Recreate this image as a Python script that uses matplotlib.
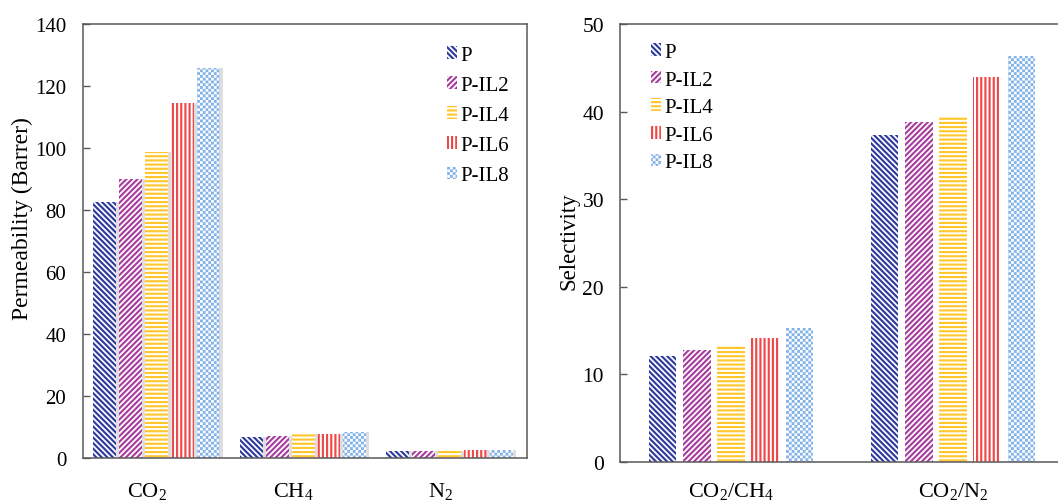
import numpy as np
import matplotlib
matplotlib.use("Agg")
import matplotlib.pyplot as plt
import matplotlib.hatch as mhatch
from matplotlib.path import Path

# ---------------- data ----------------
gases = ['CO$_2$', 'CH$_4$', 'N$_2$']
pairs = ['CO$_2$/CH$_4$', 'CO$_2$/N$_2$']
membranes = ['P', 'P-IL2', 'P-IL4', 'P-IL6', 'P-IL8']

perm_P = [82.7, 6.9, 2.3]
perm_IL2 = [89.9, 7.0, 2.3]
perm_IL4 = [98.7, 7.6, 2.1]
perm_IL6 = [114.5, 7.9, 2.6]
perm_IL8 = [125.7, 8.3, 2.7]

sel_P = [12.1, 37.3]
sel_IL2 = [12.8, 38.8]
sel_IL4 = [13.2, 39.5]
sel_IL6 = [14.2, 44.0]
sel_IL8 = [15.3, 46.3]

perm = [perm_P, perm_IL2, perm_IL4, perm_IL6, perm_IL8]
sel = [sel_P, sel_IL2, sel_IL4, sel_IL6, sel_IL8]

colors = ['#2F3C9E', '#A83E9E', '#FFC72C', '#F04848', '#7FB0E8']
hatches = ['\\' * 6, '/' * 6, '----', '||||', '......']

# ---------------- styling ----------------
plt.rcParams['font.family'] = ['Liberation Serif', 'DejaVu Serif']
plt.rcParams['mathtext.fontset'] = 'custom'
plt.rcParams['mathtext.rm'] = 'Liberation Serif'
plt.rcParams['mathtext.it'] = 'Liberation Serif:italic'
plt.rcParams['mathtext.bf'] = 'Liberation Serif:bold'
plt.rcParams['hatch.linewidth'] = 1.55

DPI = 100
HLW_PX = plt.rcParams['hatch.linewidth'] * DPI / 72.0


class CheckerHatch(mhatch.HatchPatternBase):
    """Small checkerboard hatch, triggered by '.' characters."""
    def __init__(self, hatch, density):
        n = hatch.count('.') * int(density)
        if n % 2:
            n += 1
        self.num_cells = n
        self.num_vertices = (n * n // 2) * 5 if n else 0

    def set_vertices_and_codes(self, vertices, codes):
        n = self.num_cells
        c = 1.0 / n
        m = min((HLW_PX / 2.0) / DPI, 0.45 * c)
        k = 0
        for i in range(n):
            for j in range(n):
                if (i + j) % 2 == 0:
                    x0, y0 = i * c, j * c
                    vertices[k:k + 5] = [[x0 + m, y0 + m], [x0 + c - m, y0 + m],
                                         [x0 + c - m, y0 + c - m], [x0 + m, y0 + c - m],
                                         [x0 + m, y0 + m]]
                    codes[k] = Path.MOVETO
                    codes[k + 1:k + 4] = Path.LINETO
                    codes[k + 4] = Path.CLOSEPOLY
                    k += 5


mhatch._hatch_types = [t for t in mhatch._hatch_types
                       if t is not mhatch.SmallFilledCircles] + [CheckerHatch]

SPINE = '#595959'

fig = plt.figure(figsize=(10.58, 5.02), dpi=DPI)
ax1 = fig.add_axes([83 / 1058, 1 - 459 / 502, 444 / 1058, 434 / 502])
ax2 = fig.add_axes([620 / 1058, 1 - 463 / 502, 444 / 1058, 438 / 502])

# ---------------- left: permeability ----------------
x1 = np.arange(len(gases))
pitch1, w1 = 0.177, 0.157
shadow_dx = 0.02
handles1 = []
for i, (vals, col, h, lab) in enumerate(zip(perm, colors, hatches, membranes)):
    pos = x1 + (i - 2) * pitch1
    ax1.bar(pos + shadow_dx, vals, w1, color='#DEDEDE', linewidth=0, zorder=1)
    b = ax1.bar(pos, vals, w1, facecolor='white', edgecolor=col, linewidth=0,
                hatch=h, label=lab, zorder=2)
    handles1.append(b)

ax1.set_xlim(-0.5, 2.527)
ax1.set_ylim(0, 140)
ax1.set_yticks(np.arange(0, 141, 20))
ax1.set_xticks(x1 - 0.065)
ax1.set_xticklabels(gases, fontsize=16)
ax1.tick_params(axis='x', length=0, pad=16)
ax1.tick_params(axis='y', direction='in', length=5, width=1.0, color=SPINE,
                labelsize=15, pad=12)
ax1.set_ylabel('Permeability (Barrer)', fontsize=17)
ax1.yaxis.set_label_coords(-0.137, 0.555)
ax1.yaxis.label.set_verticalalignment('center')
for sp in ax1.spines.values():
    sp.set_color(SPINE)
    sp.set_linewidth(1.1)

leg1 = ax1.legend(handles=handles1, loc='upper left',
                  bbox_to_anchor=(447 / 1058, 1 - 47 / 502),
                  bbox_transform=fig.transFigure, frameon=False,
                  fontsize=15, borderpad=0, borderaxespad=0,
                  handlelength=0.5, handleheight=0.55, handletextpad=0.15,
                  labelspacing=0.53)

# ---------------- right: selectivity ----------------
x2 = np.arange(len(pairs))
pitch2, w2 = 0.154, 0.124
handles2 = []
for i, (vals, col, h, lab) in enumerate(zip(sel, colors, hatches, membranes)):
    pos = x2 + (i - 2) * pitch2
    b = ax2.bar(pos, vals, w2, facecolor='white', edgecolor=col, linewidth=0,
                hatch=h, label=lab, zorder=2)
    handles2.append(b)

ax2.set_xlim(-0.5, 1.5)
ax2.set_ylim(0, 50)
ax2.set_yticks(np.arange(0, 51, 10))
ax2.set_xticks(x2)
ax2.set_xticklabels(pairs, fontsize=16)
ax2.tick_params(axis='x', length=0, pad=13)
ax2.tick_params(axis='y', direction='in', length=5, width=1.0, color=SPINE,
                labelsize=15.5, pad=11.5)
ax2.set_ylabel('Selectivity', fontsize=16.5)
ax2.yaxis.set_label_coords(-0.115, 0.507)
ax2.yaxis.label.set_verticalalignment('center')
for sp in ax2.spines.values():
    sp.set_color(SPINE)
    sp.set_linewidth(1.1)

leg2 = ax2.legend(handles=handles2, loc='upper left',
                  bbox_to_anchor=(651 / 1058, 1 - 44 / 502),
                  bbox_transform=fig.transFigure, frameon=False,
                  fontsize=15, borderpad=0, borderaxespad=0,
                  handlelength=0.5, handleheight=0.55, handletextpad=0.15,
                  labelspacing=0.41)

fig.savefig('out.png', dpi=DPI)
